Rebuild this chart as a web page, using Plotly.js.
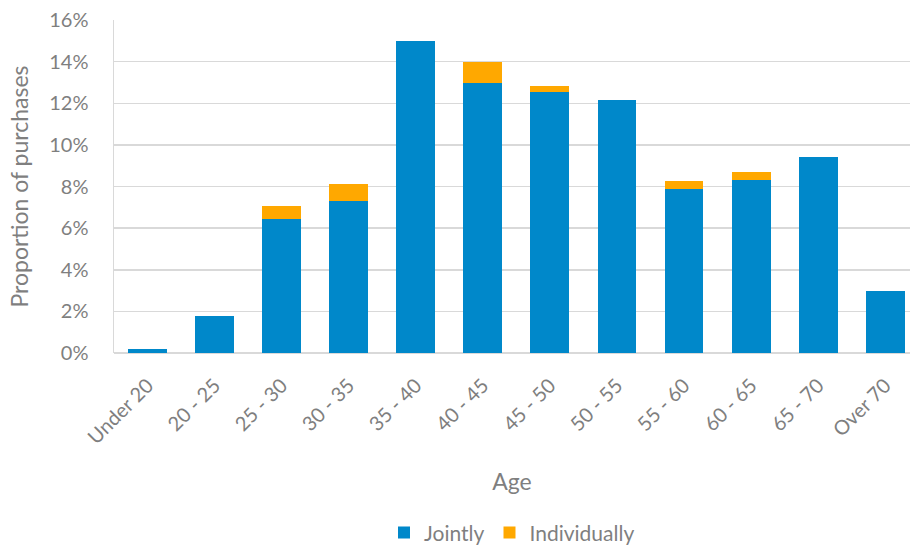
<!DOCTYPE html>
<html>
<head>
<meta charset="utf-8">
<script src="https://cdn.plot.ly/plotly-3.0.1.min.js"></script>
<style>html,body{margin:0;padding:0;background:#fff;}#chart{width:910px;height:546px;}</style>
</head>
<body>
<div id="chart"></div>
<script>
const categories = ["Under 20","20 - 25","25 - 30","30 - 35","35 - 40","40 - 45","45 - 50","50 - 55","55 - 60","60 - 65","65 - 70","Over 70"];
const jointly = [0.0018,0.0176,0.0644,0.0731,0.1498,0.1298,0.1252,0.1216,0.0788,0.0829,0.0942,0.0298];
const individually = [0,0,0.0060,0.0081,0,0.0099,0.0030,0,0.0037,0.0040,0,0];
const yTicks = [0,0.02,0.04,0.06,0.08,0.10,0.12,0.14,0.16];

const font = "Lato, 'Open Sans', sans-serif";
const grey = "#7f7f7f";

const data = [
  {type:"bar", name:"Jointly", x:categories, y:jointly, marker:{color:"#0088CA"}},
  {type:"bar", name:"Individually", x:categories, y:individually, marker:{color:"#FFA800"}}
];

const layout = {
  width:910, height:546,
  barmode:"stack", bargap:0.42,
  margin:{l:114, r:0, t:20, b:193},
  paper_bgcolor:"#fff", plot_bgcolor:"#fff",
  font:{family:font, color:grey, size:18},
  showlegend:true,
  legend:{orientation:"h", x:0.5, xanchor:"center", yref:"container", y:0.024, yanchor:"middle",
          font:{size:21, color:grey}, traceorder:"normal", itemwidth:30},
  xaxis:{type:"category", range:[-0.5, 11.37], tickangle:-45, tickfont:{size:20, color:grey},
         showgrid:false, showline:false, ticks:"", fixedrange:true, ticklabelstandoff:16,
         title:{text:"Age", font:{size:23, color:grey}, standoff:26}},
  yaxis:{range:[0,0.16], tickvals:yTicks, tickformat:".0%", tickfont:{size:20, color:grey},
         showgrid:true, gridcolor:"#d9d9d9", gridwidth:1.5, zeroline:true, zerolinecolor:"#d9d9d9", zerolinewidth:1.5,
         showline:true, linecolor:"#d9d9d9", linewidth:1.5, ticks:"", ticklabelstandoff:20,
         title:{text:"Proportion of purchases", font:{size:23, color:grey}, standoff:14}}
};

Plotly.newPlot("chart", data, layout, {displayModeBar:false, staticPlot:true});
</script>
</body>
</html>
